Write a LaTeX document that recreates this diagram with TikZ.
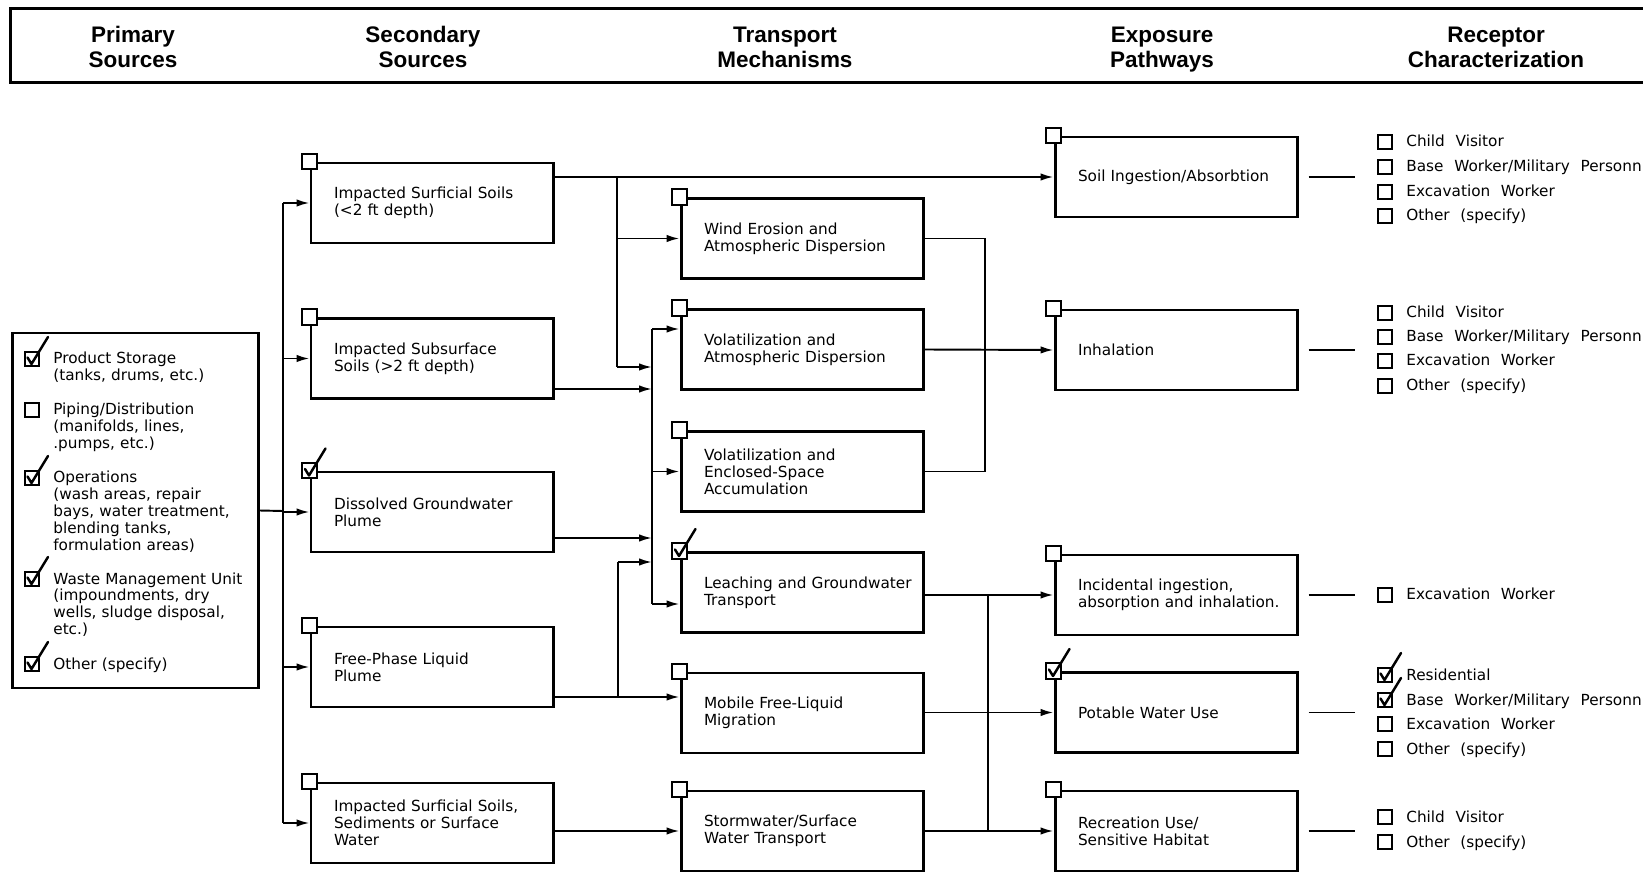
\documentclass[tikz,border=0pt]{standalone}
\usepackage{fontspec}
\setmainfont{DejaVu Sans}[WordSpace=2.2]
\newfontfamily\headfont{Liberation Sans}
\usetikzlibrary{arrows.meta}
\newcommand\bodysize{\fontsize{8.7pt}{9.6pt}\selectfont}
\newcommand\checkit[1]{\draw[tickmark] ([shift={(-0.9mm,0.3mm)}]#1.center) -- ([shift={(-0.1mm,-1mm)}]#1.center) -- ([shift={(3.2mm,4.4mm)}]#1.center);}

\begin{document}
\begin{tikzpicture}[x=0.2mm,y=-0.2mm,
  link/.style={line width=1.1pt},
  flow/.style={link,-{Latex[length=2.6mm,width=1.5mm]}},
  stage/.style={draw,line width=1.7pt,minimum width=48.4mm,minimum height=16mm,text width=48.4mm,inner xsep=0pt,inner ysep=0pt,align=left,font=\bodysize,execute at begin node={\leftskip=4.6mm\relax}},
  panel/.style={draw,line width=1.7pt,minimum width=49.1mm,minimum height=71mm},
  item/.style={inner sep=0pt,font=\bodysize,align=left,text width=40mm,anchor=base west},
  ritem/.style={inner sep=0pt,font=\bodysize,anchor=base west},
  chk/.style={draw,fill=white,line width=1pt,minimum size=3.1mm,inner sep=0pt},
  rchk/.style={chk,minimum size=2.7mm},
  tickmark/.style={line width=1.4pt,line cap=round,line join=round},
  head/.style={font=\headfont\bfseries\fontsize{12.8pt}{14.2pt}\selectfont,align=center,text width=70mm,anchor=base}]
\useasboundingbox (0,0) rectangle (1643,872);
\fill[white] (0,0) rectangle (1643,872);
\clip (0,0) rectangle (1643,872);

% column titles
\draw[line width=1.6pt] (10.5,8.4) rectangle (1670,82.8);
\node[head] (hprim) at (133,42.7) {Primary\\Sources};
\node[head] (hsec) at (423,42.7) {Secondary\\Sources};
\node[head] (htrans) at (785,42.7) {Transport\\Mechanisms};
\node[head] (hexp) at (1162,42.7) {Exposure\\Pathways};
\node[head] (hrec) at (1496,42.7) {Receptor\\Characterization};

% primary sources
\node[panel] (prim) at (135.3,510.5) {};
\foreach \y/\txt [count=\i] in {359/{Product Storage\\(tanks, drums, etc.)},
    410/{Piping/Distribution\\(manifolds, lines,\\.pumps, etc.)},
    478/{Operations\\(wash areas, repair\\bays, water treatment,\\blending tanks,\\formulation areas)},
    579/{Waste Management Unit\\(impoundments, dry\\wells, sludge disposal,\\etc.)},
    664/{Other (specify)}}
{\node[chk,minimum size=2.9mm] (pc\i) at (32,\y) {};
 \node[item] (pt\i) at (53,\y+5) {\txt};}
\foreach \c in {pc1,pc3,pc4,pc5} \checkit{\c};

% secondary sources
\node[stage] (s1) at (432,203) {Impacted Surficial Soils\\(<2 ft depth)};
\node[stage] (s2) at (432,358.5) {Impacted Subsurface\\Soils (>2 ft depth)};
\node[stage] (s3) at (432,512) {Dissolved Groundwater\\Plume};
\node[stage] (s4) at (432,667) {Free-Phase Liquid\\Plume};
\node[stage] (s5) at (432,823) {Impacted Surficial Soils,\\Sediments or Surface\\Water};

% transport mechanisms
\node[stage] (t1) at (802,238.5) {Wind Erosion and\\Atmospheric Dispersion};
\node[stage] (t2) at (802,349.5) {Volatilization and\\Atmospheric Dispersion};
\node[stage] (t3) at (802,471.5) {Volatilization and\\Enclosed-Space\\Accumulation};
\node[stage] (t4) at (802,592.5) {Leaching and Groundwater\\Transport};
\node[stage] (t5) at (802,713) {Mobile Free-Liquid\\Migration};
\node[stage] (t6) at (802,831) {Stormwater/Surface\\Water Transport};

% exposure pathways
\node[stage] (e1) at (1176,177) {Soil Ingestion/Absorbtion};
\node[stage] (e2) at (1176,350) {Inhalation};
\node[stage] (e3) at (1176,595) {Incidental ingestion,\\absorption and inhalation.};
\node[stage] (e4) at (1176,712.5) {Potable Water Use};
\node[stage] (e5) at (1176,831) {Recreation Use/\\Sensitive Habitat};

\foreach \n in {s1,s2,s3,s4,s5,t1,t2,t3,t4,t5,t6,e1,e2,e3,e4,e5}
  \node[chk] (c\n) at (\n.north west) {};
\foreach \c in {cs3,ct4,ce4} \checkit{\c};

% primary -> secondary
\coordinate (sbus) at (283,511);
\draw[link] (prim.east) -- (sbus);
\draw[link] (sbus |- s1.west) -- (sbus |- s5.west);
\foreach \n in {s1,s2,s3,s4,s5} \draw[flow] (sbus |- \n.west) -- (\n.west);

% secondary -> transport
\coordinate (ja) at (617,177);
\coordinate (jb) at (617,367);
\coordinate (jc) at (618,697);
\coordinate (jd) at (618,562);
\coordinate (tbus) at (652,329);
\coordinate (tend) at (652,604);
\coordinate (k3) at (652,389);
\coordinate (k4) at (652,538);
\draw[flow] (s1.east |- e1.west) -- (e1.west); % surficial soils straight to ingestion
\draw[link] (ja) -- (jb);
\draw[flow] (ja |- t1.west) -- (t1.west);
\draw[flow] (jb) -- (tbus |- jb);
\draw[link] (tbus) -- (tend);
\draw[flow] (tbus) -- (t2.west |- tbus);
\draw[flow] (tbus |- t3.west) -- (t3.west);
\draw[flow] (tend) -- (t4.west |- tend);
\draw[flow] (s2.east |- k3) -- (k3);
\draw[flow] (s3.east |- k4) -- (k4);
\draw[flow] (s4.east |- jc) -- (t5.west |- jc);
\draw[link] (jc) -- (jd);
\draw[flow] (jd) -- (tbus |- jd);
\draw[flow] (s5.east |- t6.west) -- (t6.west);

% transport -> exposure
\coordinate (ma) at (985,0);
\coordinate (mb) at (988,0);
\draw[link] (t1.east) -| (ma |- t3.east) -- (t3.east);
\draw[flow] (t2.east) -- (e2.west);
\draw[flow] (t4.east |- e3.west) -- (e3.west);
\draw[link] (mb |- e3.west) -- (mb |- e5.west);
\draw[flow] (t5.east |- e4.west) -- (e4.west);
\draw[flow] (t6.east |- e5.west) -- (e5.west);

% receptors
\foreach \e in {e1,e2,e3,e4,e5}
  \draw[link] ([xshift=2mm]\e.east) -- ([xshift=11.2mm]\e.east);
\foreach \y/\txt [count=\i] in {142/Child Visitor, 167/{Base Worker/Military Personn}, 192/Excavation Worker, 216/Other (specify),
    313/Child Visitor, 337/{Base Worker/Military Personn}, 361/Excavation Worker, 386/Other (specify),
    595/Excavation Worker,
    675/Residential, 700/{Base Worker/Military Personn}, 724/Excavation Worker, 749/Other (specify),
    817/Child Visitor, 842/Other (specify)}
{\node[rchk] (rc\i) at (1385,\y) {};
 \node[ritem] (rt\i) at (1406,\y+5) {\txt};}
\checkit{rc10};
\checkit{rc11};
\end{tikzpicture}
\end{document}
